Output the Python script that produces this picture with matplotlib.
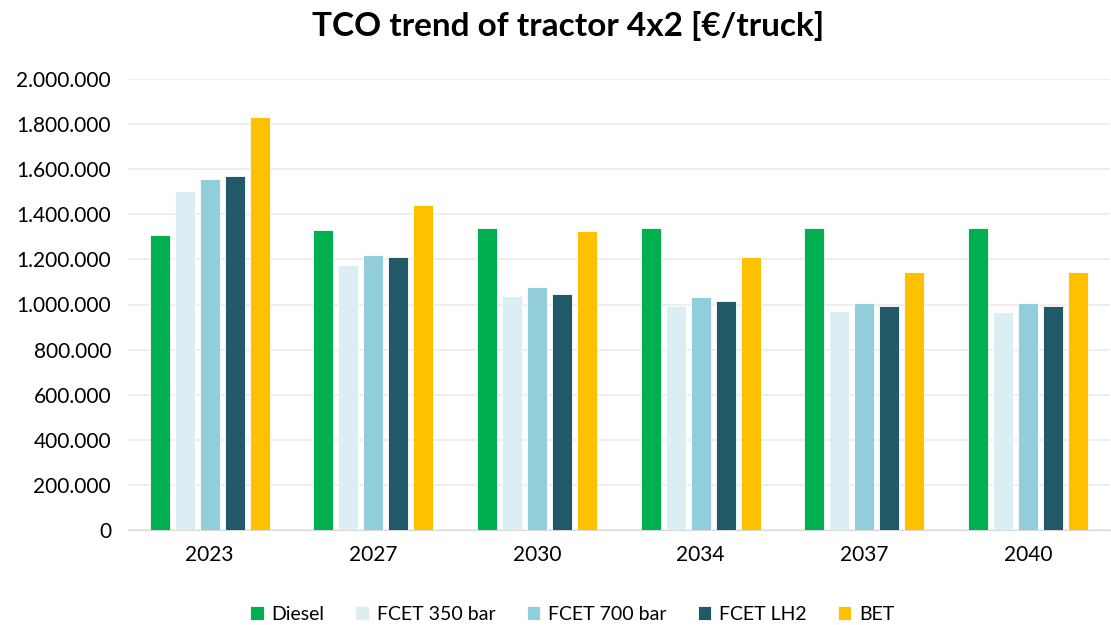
import matplotlib.pyplot as plt
import numpy as np
from matplotlib.ticker import FuncFormatter

plt.rcParams['font.family'] = ['Lato', 'DejaVu Sans']

years = ["2023", "2027", "2030", "2034", "2037", "2040"]
diesel = [1308000, 1329000, 1339000, 1339000, 1339000, 1339000]
fcet_350 = [1502000, 1174000, 1036000, 995000, 970000, 967000]
fcet_700 = [1558000, 1221000, 1078000, 1035000, 1007000, 1005000]
fcet_lh2 = [1571000, 1209000, 1048000, 1016000, 993000, 992000]
bet = [1831000, 1443000, 1326000, 1211000, 1143000, 1143000]

series = [("Diesel", diesel, "#00B050"),
          ("FCET 350 bar", fcet_350, "#DAEEF3"),
          ("FCET 700 bar", fcet_700, "#92CDDC"),
          ("FCET LH2", fcet_lh2, "#215968"),
          ("BET", bet, "#FFC000")]

fig = plt.figure(figsize=(11.11, 6.25), dpi=100)
ax = fig.add_axes([0.115, 0.152, 0.884, 0.7216])

x = np.arange(len(years))
slot = 0.153
w = 0.122
for i, (name, vals, col) in enumerate(series):
    ax.bar(x + (i - 2) * slot, vals, w, color=col, label=name,
           edgecolor="white", linewidth=0.6, zorder=3)

ax.set_ylim(0, 2000000)
ax.set_xlim(-0.5, len(years) - 0.5)
ax.set_yticks(np.arange(0, 2000001, 200000))
ax.yaxis.set_major_formatter(FuncFormatter(lambda v, p: f"{int(v):,}".replace(",", ".")))
ax.set_xticks(x)
ax.set_xticklabels(years)
ax.tick_params(axis="both", length=0, labelsize=15, colors="#000000")
ax.tick_params(axis="x", pad=11)
ax.tick_params(axis="y", pad=12)
ax.grid(axis="y", color="#EBEBEB", linewidth=1.2, zorder=0)
for s in ["top", "right", "left"]:
    ax.spines[s].set_visible(False)
ax.spines["bottom"].set_color("#D9D9D9")

fig.suptitle("TCO trend of tractor 4x2 [€/truck]", fontsize=24, fontweight="bold",
             x=0.511, y=0.983)
fig.legend(loc="lower center", ncol=5, frameon=False, fontsize=14,
           bbox_to_anchor=(0.515, -0.024), handlelength=0.7, handleheight=0.7,
           columnspacing=1.6, handletextpad=0.4)

fig.savefig("out.png")
